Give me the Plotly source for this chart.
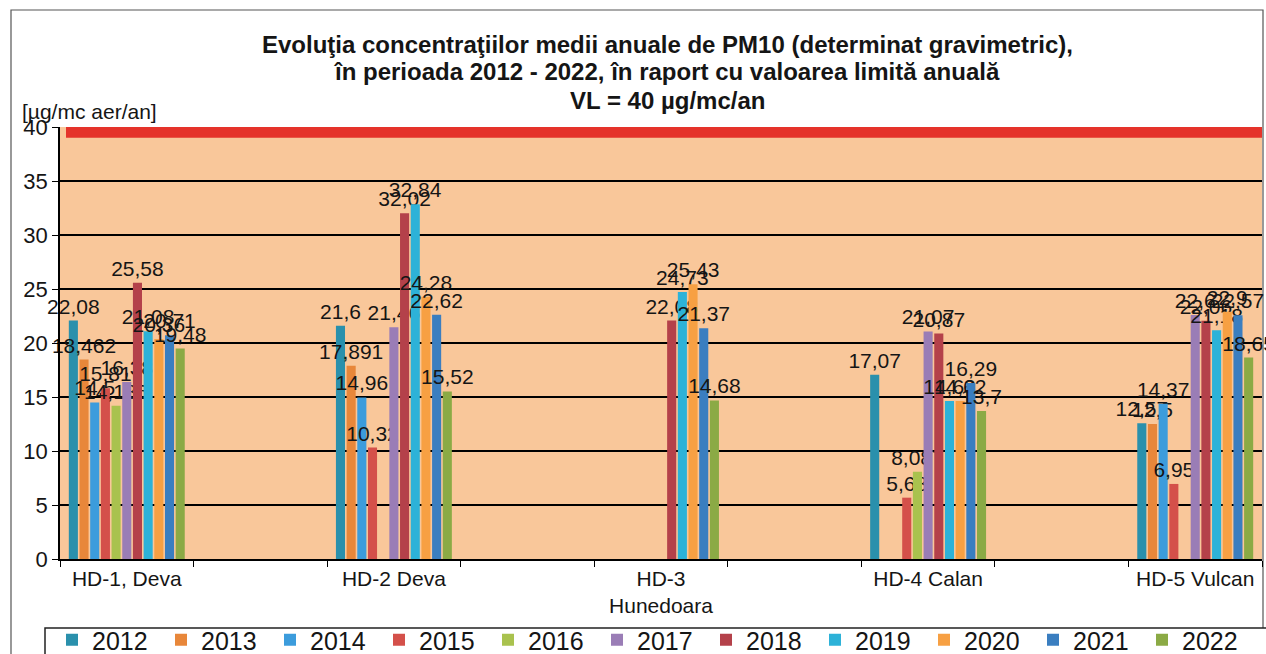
import plotly.graph_objects as go

years = ["2012", "2013", "2014", "2015", "2016", "2017", "2018", "2019", "2020", "2021", "2022"]
stations = ["HD-1, Deva", "HD-2 Deva", "HD-3<br>Hunedoara", "HD-4 Calan", "HD-5 Vulcan"]
station_pos = [0, 2, 4, 6, 8]

hd1 = [22.08, 18.462, 14.5, 15.81, 14.186, 16.38, 25.58, 21.08, 20.36, 20.71, 19.48]
hd2 = [21.6, 17.891, 14.96, 10.32, None, 21.46, 32.02, 32.84, 24.28, 22.62, 15.52]
hd3 = [None, None, None, None, None, None, 22.08, 24.73, 25.43, 21.37, 14.68]
hd4 = [17.07, None, None, 5.68, 8.087, 21.07, 20.87, 14.63, 14.62, 16.29, 13.7]
hd5 = [12.57, 12.5, 14.37, 6.95, None, 22.6, 22.06, 21.18, 22.9, 22.57, 18.65]

limit_value = 40
y_ticks = [0, 5, 10, 15, 20, 25, 30, 35, 40]

title_lines = [
    "Evoluţia concentraţiilor medii anuale de PM10 (determinat gravimetric),",
    "în perioada 2012 - 2022, în raport cu valoarea limită anuală",
    "VL = 40 µg/mc/an",
]

colors = ["#2A90AC", "#E8873A", "#3C9CDC", "#D4504A", "#A9C24E", "#9A7DB6",
          "#B4414A", "#2DB2D8", "#F7A043", "#3A7EC0", "#8BAA45"]

table = [hd1, hd2, hd3, hd4, hd5]

fig = go.Figure()
for i, yr in enumerate(years):
    vals = [row[i] for row in table]
    txt = ["" if v is None else str(v).replace(".", ",") for v in vals]
    fig.add_trace(go.Bar(
        x=station_pos, y=vals, name=yr, text=txt,
        textposition="outside", constraintext="none", cliponaxis=False,
        textfont=dict(size=21, color="#151515", family="Liberation Sans"),
        marker=dict(color=colors[i], line=dict(width=0)),
    ))

W, H = 1266, 654
L, R, T, B = 60, 4, 127, 95
pw, ph = W - L - R, H - T - B

def px(xpix):
    return (xpix - L) / pw

def py(ypix):
    return (H - B - ypix) / ph

fig.update_layout(
    width=W, height=H,
    margin=dict(l=L, r=R, t=T, b=B, autoexpand=False),
    paper_bgcolor="white",
    plot_bgcolor="#F9C79A",
    barmode="group", bargap=0.56, bargroupgap=0.15,
    font=dict(family="Liberation Sans", color="#151515"),
    xaxis=dict(
        range=[-0.5, 8.5], tickmode="array", tickvals=station_pos, ticktext=stations,
        ticks="", showgrid=False, zeroline=False,
        showline=True, linecolor="black", linewidth=1.5,
        tickfont=dict(size=21, color="#151515"),
        minor=dict(tickmode="linear", tick0=0.5, dtick=1, ticks="outside",
                   ticklen=6, tickcolor="black", showgrid=False),
    ),
    yaxis=dict(
        range=[0, 40], tickmode="array", tickvals=y_ticks,
        ticks="outside", ticklen=6, tickcolor="black",
        showgrid=True, gridcolor="black", gridwidth=2.2, zeroline=False,
        showline=True, linecolor="black", linewidth=1.5,
        tickfont=dict(size=22, color="#151515"),
    ),
    legend=dict(
        orientation="h", xref="container", yref="container",
        x=52 / W, xanchor="left", y=1 - 617 / H, yanchor="top",
        borderwidth=0, bgcolor="rgba(0,0,0,0)",
        font=dict(size=25, color="#151515"),
        entrywidth=64, entrywidthmode="pixels", itemwidth=30,
        traceorder="normal",
    ),
    showlegend=True,
)

# title lines
for line, ypix in zip(title_lines, [45, 72, 100]):
    fig.add_annotation(text="<b>" + line + "</b>", xref="paper", yref="paper",
                       x=px(667), y=py(ypix), xanchor="center", yanchor="middle",
                       showarrow=False, font=dict(size=24, color="#151515"))

# limit value band
fig.add_shape(type="rect", xref="paper", yref="y",
              x0=px(66), x1=1, y0=limit_value - 1, y1=limit_value,
              fillcolor="#E5332A", line=dict(width=0), layer="above")

# outer chart frame
fig.add_shape(type="rect", xref="paper", yref="paper",
              x0=px(11), x1=px(1263), y0=py(10), y1=py(700),
              line=dict(color="#555", width=1.2), fillcolor="rgba(0,0,0,0)", layer="below")

# legend box
fig.add_shape(type="rect", xref="paper", yref="paper",
              x0=px(45), x1=px(1275), y0=py(628), y1=py(700),
              line=dict(color="#222", width=1.5), fillcolor="white", layer="below")

fig.add_annotation(text="[µg/mc aer/an]", xref="paper", yref="paper",
                   x=px(20), y=py(112), xanchor="left", yanchor="middle",
                   showarrow=False, font=dict(size=21, color="#151515"))

fig.write_html("out.html", config={"displayModeBar": False},
               post_script="document.body.style.margin='0';document.body.style.overflow='hidden';")
